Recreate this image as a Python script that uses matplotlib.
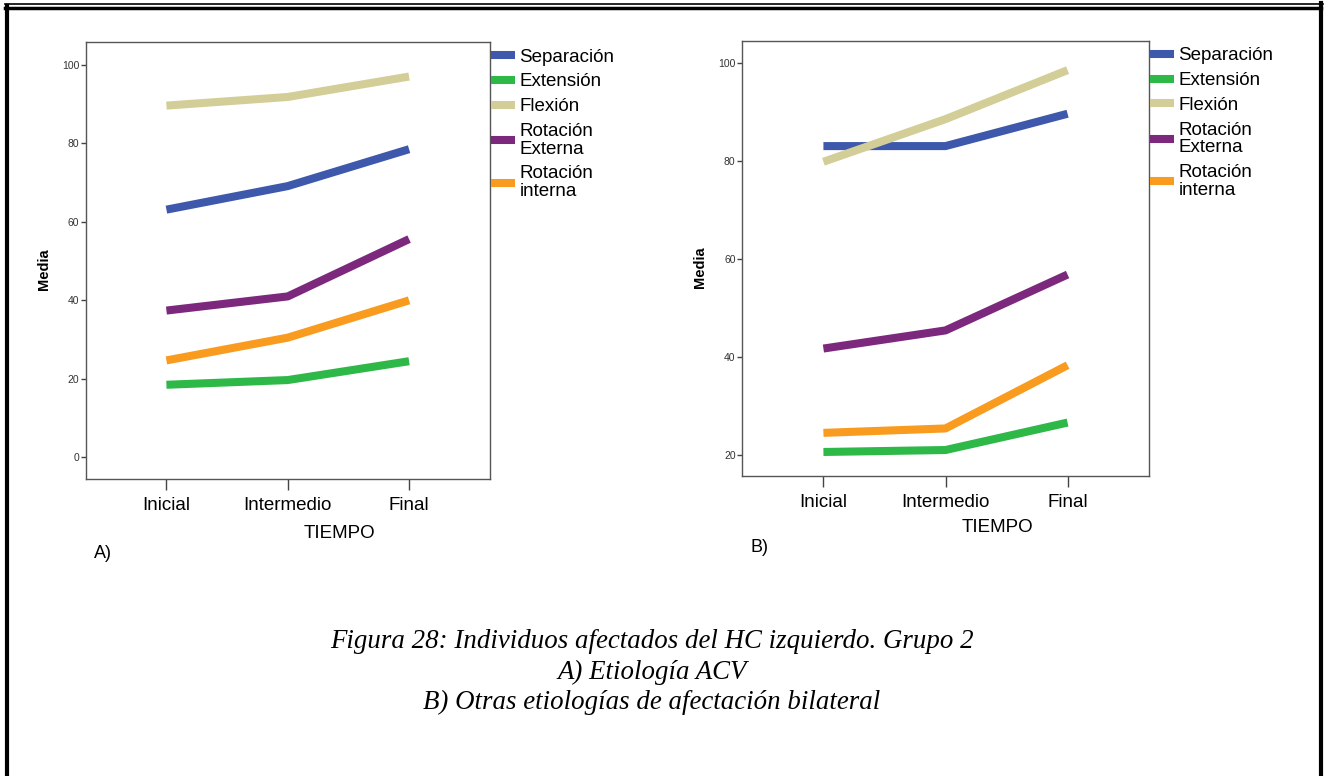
import matplotlib
matplotlib.use("Agg")
import matplotlib.pyplot as plt
from matplotlib.lines import Line2D

plt.rcParams['font.family'] = ['Liberation Sans', 'DejaVu Sans']

# Datos: medias por momento de medida
tiempos = ["Inicial", "Intermedio", "Final"]
series = ["Separación", "Extensión", "Flexión", "Rotación\nExterna", "Rotación\ninterna"]
colores = ["#3e58ac", "#2eb848", "#d3ce97", "#7c287d", "#f99b1f"]

# A) Etiología ACV
sep_a = [63.1, 69.1, 78.5]
ext_a = [18.5, 19.7, 24.5]
flex_a = [89.6, 91.8, 97.0]
rext_a = [37.4, 41.0, 55.6]
rint_a = [24.7, 30.5, 40.0]

# B) Otras etiologías
sep_b = [83.0, 83.0, 89.6]
ext_b = [20.6, 21.0, 26.6]
flex_b = [79.8, 88.5, 98.5]
rext_b = [41.7, 45.4, 56.8]
rint_b = [24.5, 25.4, 38.3]

yticks_a = [0, 20, 40, 60, 80, 100]
yticks_b = [20, 40, 60, 80, 100]

W, H = 1326, 776
fig = plt.figure(figsize=(W / 100, H / 100), dpi=100)


def px_axes(left, top, right, bottom):
    return fig.add_axes([left / W, 1 - bottom / H, (right - left) / W, (bottom - top) / H])


def panel(ax, datos, yticks, ylim, xlab_y):
    for vals, nombre, col in zip(datos, series, colores):
        ax.plot(range(len(tiempos)), vals, color=col, lw=5.8, label=nombre,
                solid_capstyle='butt', solid_joinstyle='round')
    ax.set_xlim(-0.667, 2.667)
    ax.set_ylim(*ylim)
    ax.set_xticks(range(len(tiempos)))
    ax.set_xticklabels(tiempos, fontsize=13.5)
    ax.set_yticks(yticks)
    ax.set_yticklabels([str(t) for t in yticks], fontsize=7.5, color="#333333")
    ax.tick_params(axis='x', length=8, width=1, color="#444444", pad=5)
    ax.tick_params(axis='y', length=3.6, width=1, color="#444444", pad=1)
    for s in ax.spines.values():
        s.set_color("#555555")
        s.set_linewidth(1)
    ax.set_ylabel("Media", fontsize=10.5, fontweight='bold')
    ax.yaxis.set_label_coords(-0.085, 0.48)
    ax.set_xlabel("TIEMPO", fontsize=13.5)
    ax.xaxis.set_label_coords(0.627, xlab_y)
    leg = ax.legend(loc='upper left', bbox_to_anchor=(1.003, 0.985), frameon=False,
                    fontsize=13.5, handlelength=1.25, handletextpad=0.25,
                    borderaxespad=0, borderpad=0, labelspacing=0.41)
    for t in leg.get_texts():
        t.set_linespacing(1.05)
    for ln in leg.get_lines():
        ln.set_linewidth(5.8)
    return ax


ax1 = px_axes(85.5, 42, 490, 479)
panel(ax1, [sep_a, ext_a, flex_a, rext_a, rint_a], yticks_a, (-5.5, 105.8), -0.106)
ax2 = px_axes(742, 40.7, 1149, 476)
panel(ax2, [sep_b, ext_b, flex_b, rext_b, rint_b], yticks_b, (15.7, 104.5), -0.099)

fig.text(94 / W, 1 - 553 / H, "A)", fontsize=13, va='center', ha='left')
fig.text(750 / W, 1 - 548 / H, "B)", fontsize=13, va='center', ha='left')

# Pie de figura
pie = ["Figura 28: Individuos afectados del HC izquierdo. Grupo 2",
       "A) Etiología ACV",
       "B) Otras etiologías de afectación bilateral"]
for i, linea in enumerate(pie):
    fig.text(652 / W, 1 - (642 + 30 * i) / H, linea, fontsize=19.4, style='italic',
             family='Liberation Serif', ha='center', va='center')

# Marco exterior
marco = [((5, 1323), (4, 4), 1.2), ((5, 1321), (7.5, 7.5), 2.5),
         ((7, 7), (6, 776), 3), ((1321, 1321), (3, 776), 3)]
for xs, ys, lw in marco:
    fig.add_artist(Line2D([x / W for x in xs], [1 - y / H for y in ys], color='black', lw=lw))

fig.savefig("out.png", dpi=100)
